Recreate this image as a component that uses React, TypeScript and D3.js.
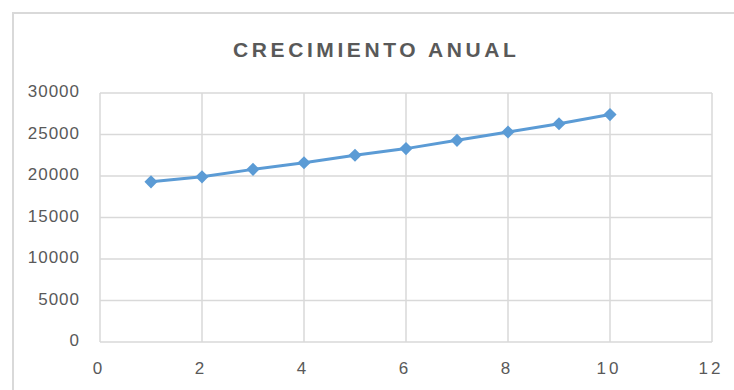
import React from "react";
import * as d3 from "d3";

// Annual growth series
const years = [1, 2, 3, 4, 5, 6, 7, 8, 9, 10];
const values = [19300, 19900, 20800, 21600, 22500, 23300, 24300, 25300, 26300, 27400];
const xTicks = [0, 2, 4, 6, 8, 10, 12];
const yTicks = [0, 5000, 10000, 15000, 20000, 25000, 30000];
const title = "CRECIMIENTO ANUAL";

const W = 734;
const H = 390;
const plot = { left: 100, right: 712, top: 93, bottom: 342 };

export default function App() {
  const x = d3.scaleLinear().domain([0, 12]).range([plot.left, plot.right]);
  const y = d3.scaleLinear().domain([0, 30000]).range([plot.bottom, plot.top]);
  const pts = years.map((yr, i) => [x(yr), y(values[i])] as [number, number]);
  const line = d3.line()(pts) || "";
  const diamond = d3.symbol().type(d3.symbolDiamond2).size(110)() || "";
  const textColor = "#595959";
  const grid = "#d9d9d9";

  return (
    <svg
      width={W}
      height={H}
      style={{ position: "absolute", left: 0, top: 0, background: "#fff" }}
      fontFamily="'Liberation Sans', Arial, sans-serif"
    >
      {/* chart frame */}
      <rect x={13} y={13} width={W + 20} height={H + 20} fill="#fff" stroke={grid} strokeWidth={2} />
      <text
        x={233}
        y={57}
        fontSize={21}
        fontWeight="bold"
        letterSpacing={3.6}
        fill={textColor}
      >
        {title}
      </text>
      {/* horizontal gridlines */}
      {yTicks.map((t) => (
        <line key={"h" + t} x1={plot.left} x2={plot.right} y1={y(t)} y2={y(t)} stroke={grid} strokeWidth={1.5} />
      ))}
      {/* vertical gridlines */}
      {xTicks.map((t) => (
        <line key={"v" + t} x1={x(t)} x2={x(t)} y1={plot.top} y2={plot.bottom} stroke={grid} strokeWidth={1.5} />
      ))}
      {yTicks.map((t) => (
        <text key={"yl" + t} x={80} y={y(t) + 4} fontSize={17} letterSpacing={1} textAnchor="end" fill={textColor}>
          {t}
        </text>
      ))}
      {xTicks.map((t) => (
        <text key={"xl" + t} x={x(t) - 1} y={374} fontSize={17} letterSpacing={3} textAnchor="middle" fill={textColor}>
          {t}
        </text>
      ))}
      <path d={line} fill="none" stroke="#5b9bd5" strokeWidth={3} />
      {pts.map(([px, py], i) => (
        <path key={"m" + i} d={diamond} transform={`translate(${px},${py})`} fill="#5b9bd5" />
      ))}
    </svg>
  );
}
